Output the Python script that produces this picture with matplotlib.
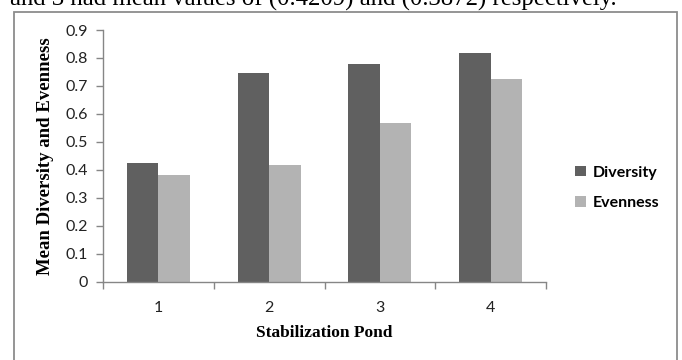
import matplotlib
matplotlib.use("Agg")
import matplotlib.pyplot as plt
import numpy as np
from matplotlib.patches import Rectangle

categories = ["1", "2", "3", "4"]
diversity = [0.425, 0.745, 0.78, 0.817]
evenness = [0.38, 0.418, 0.567, 0.725]
yticks = [0, 0.1, 0.2, 0.3, 0.4, 0.5, 0.6, 0.7, 0.8, 0.9]
ytick_labels = ["0", "0.1", "0.2", "0.3", "0.4", "0.5", "0.6", "0.7", "0.8", "0.9"]

W, H = 682, 360
fig = plt.figure(figsize=(W / 100, H / 100), dpi=100)

# caption text cut off at the top (as in the reference)
fig.text(10 / W, 1 - 5.5 / H, "and 3 had mean values of (0.4209) and (0.3872) respectively.",
         family="Liberation Serif", fontsize=17.8, ha="left", va="baseline", color="black")

# chart border
fig.patches.append(Rectangle((14 / W, -0.05), (677 - 14) / W, 1.05 - 12 / H,
                             transform=fig.transFigure, fill=False,
                             edgecolor="#8c8c8c", linewidth=1.3))

ax = fig.add_axes([103 / W, 1 - 281.7 / H, (546 - 103) / W, (281.7 - 30) / H])
x = np.arange(len(categories))
bw = 0.285
ax.bar(x - bw / 2, diversity, bw, color="#606060", label="Diversity")
ax.bar(x + bw / 2, evenness, bw, color="#b3b3b3", label="Evenness")

ax.set_xlim(-0.5, len(categories) - 0.5)
ax.set_ylim(0, 0.9)
ax.set_yticks(yticks)
ax.set_yticklabels(ytick_labels, family="Lato", fontsize=11.5, color="#222222")
ax.set_xticks(x)
ax.set_xticklabels(categories, family="Lato", fontsize=11.5, color="#222222")
ax.set_xticks(np.arange(len(categories) + 1) - 0.5, minor=True)
ax.tick_params(axis="x", which="major", length=0, pad=14)
ax.tick_params(axis="x", which="minor", length=5, color="#868686", width=1)
ax.tick_params(axis="y", length=5, color="#868686", width=1, pad=6)
for s in ["top", "right"]:
    ax.spines[s].set_visible(False)
for s in ["left", "bottom"]:
    ax.spines[s].set_color("#868686")
    ax.spines[s].set_linewidth(1)

ax.set_ylabel("Mean Diversity and Evenness", family="Liberation Serif",
              fontweight="bold", fontsize=13.5, labelpad=8)
ax.set_xlabel("Stabilization Pond", family="Liberation Serif",
              fontweight="bold", fontsize=12.5, labelpad=7)

fig.legend(loc="center left", bbox_to_anchor=(561 / W, 1 - 188 / H), frameon=False,
           prop={"family": "Lato", "weight": "bold", "size": 11.5},
           handlelength=0.65, handleheight=0.65, handletextpad=0.45, labelspacing=1.05)

fig.savefig("out.png", dpi=100)
